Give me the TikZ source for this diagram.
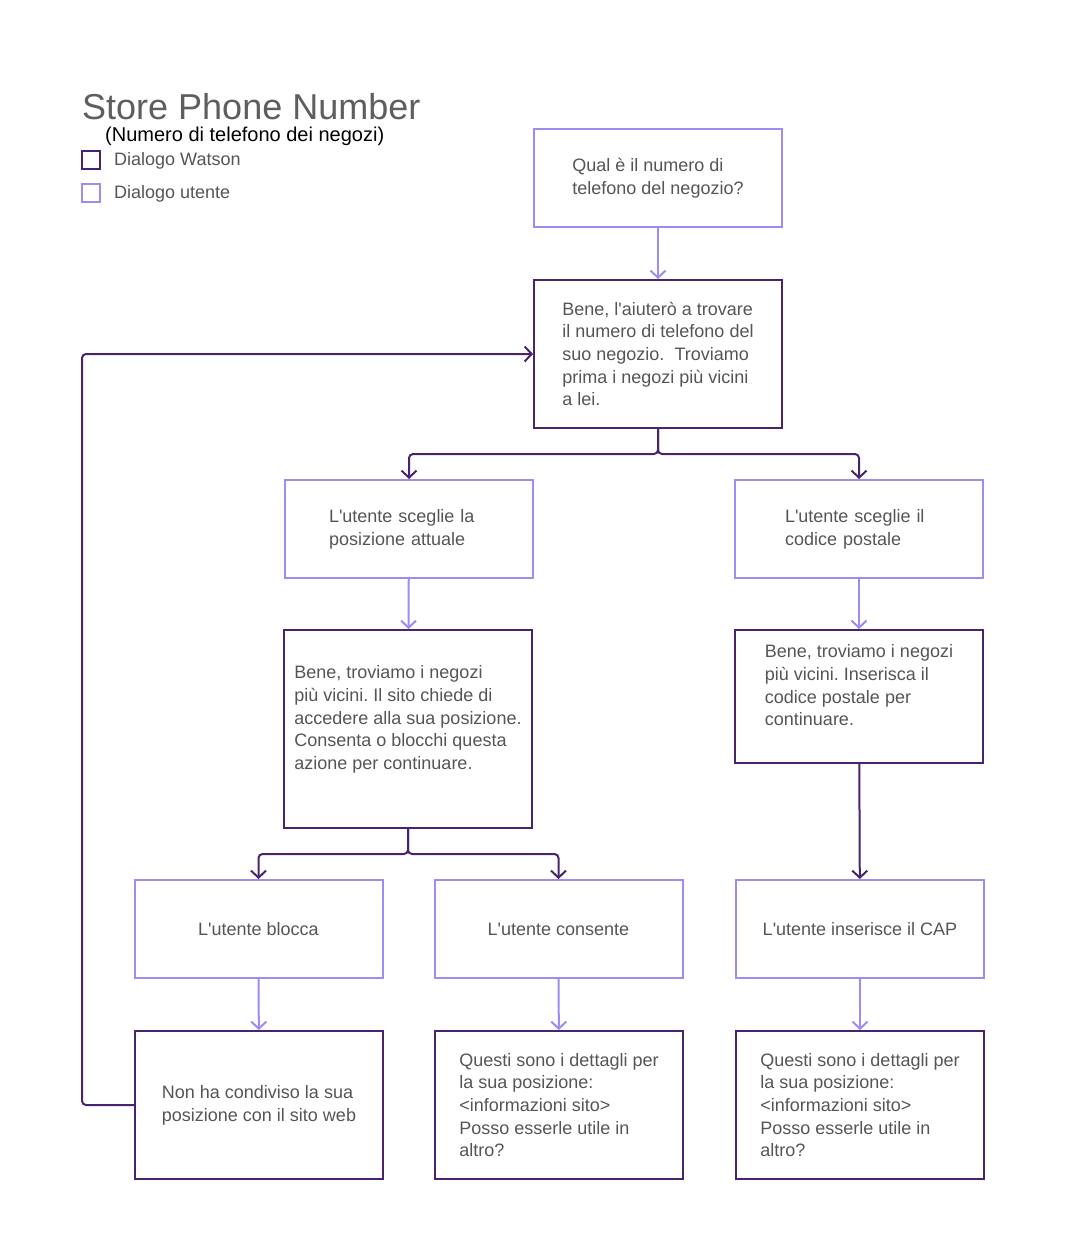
\documentclass[tikz,border=0pt]{standalone}
\usepackage{fontspec}
\setmainfont{Liberation Sans}[Ligatures=TeXOff]
\usetikzlibrary{arrows.meta}
\definecolor{watsonpurple}{HTML}{48246E}
\definecolor{userpurple}{HTML}{A08AF4}
\definecolor{textgray}{HTML}{555555}
\definecolor{titlegray}{HTML}{5E5E5E}
\frenchspacing

\begin{document}
\begin{tikzpicture}[x=1pt,y=-1pt,>={Straight Barb[length=7pt,width=15pt]},
  box/.style={rectangle,minimum width=248pt,line width=2pt,align=left,
    text=textgray,inner sep=0pt,font=\fontsize{18}{22.7}\selectfont},
  watson/.style={box,draw=watsonpurple},
  utente/.style={box,draw=userpurple},
  keybox/.style={rectangle,minimum size=18pt,inner sep=0pt,line width=2pt},
  keytext/.style={anchor=base west,inner sep=0pt,text=textgray,font=\fontsize{18}{22}\selectfont},
  watsonflow/.style={->,line width=2pt,draw=watsonpurple,rounded corners=4pt},
  userflow/.style={->,line width=2pt,draw=userpurple}]
\useasboundingbox (0,0) rectangle (1083,1257);
% title and legend
\node[anchor=base west,inner sep=0pt,text=titlegray,font=\fontsize{36}{40}\selectfont] (title) at (82,120) {Store Phone Number};
\node[anchor=base west,inner sep=0pt,font=\fontsize{20}{24}\selectfont] (subtitle) at (105,142) {(Numero di telefono dei negozi)};
\node[keybox,draw=watsonpurple] (keywatson) at (91,160) {};
\node[keybox,draw=userpurple] (keyutente) at (91,193) {};
\node[keytext] (keywatsontext) at (114,166) {Dialogo Watson};
\node[keytext] (keyutentetext) at (114,199) {Dialogo utente};
% boxes
\node[utente,minimum height=98pt] (ask) at (658,178) {Qual è il numero di\\telefono del negozio?};
\node[watson,minimum height=148pt] (start) at (658,354) {Bene, l'aiuterò a trovare\\il numero di telefono del\\suo negozio.\ \ Troviamo\\prima i negozi più vicini\\a lei.};
\node[utente,minimum height=98pt,text width=160pt] (chooseloc) at (409,529) {L'utente sceglie la\\posizione attuale};
\node[utente,minimum height=98pt,text width=148pt] (choosezip) at (859,529) {L'utente sceglie il\\codice postale};
\node[watson,minimum height=198pt] (askloc) at (408,729) {Bene, troviamo i negozi\\più vicini. Il sito chiede di\\accedere alla sua posizione.\\Consenta o blocchi questa\\azione per continuare.\\~};
\node[watson,minimum height=133pt] (askzip) at (859,696.5) {Bene, troviamo i negozi\\più vicini. Inserisca il\\codice postale per\\continuare.\\~};
\node[utente,minimum height=98pt] (block) at (258.5,929) {L'utente blocca};
\node[utente,minimum height=98pt] (allow) at (558.5,929) {L'utente consente};
\node[utente,minimum height=98pt] (enterzip) at (860,929) {L'utente inserisce il CAP};
\node[watson,minimum height=148pt] (noloc) at (259,1105) {Non ha condiviso la sua\\posizione con il sito web};
\node[watson,minimum height=148pt] (locinfo) at (559,1105) {Questi sono i dettagli per\\la sua posizione:\\<informazioni sito>\\Posso esserle utile in\\altro?};
\node[watson,minimum height=148pt] (zipinfo) at (860,1105) {Questi sono i dettagli per\\la sua posizione:\\<informazioni sito>\\Posso esserle utile in\\altro?};
% connectors
\draw[userflow] (ask) -- (start);
\draw[watsonflow] (start.south) -- ++(0,25) -| (chooseloc.north);
\draw[watsonflow] (start.south) -- ++(0,25) -| (choosezip.north);
\draw[userflow] (chooseloc) -- (askloc);
\draw[userflow] (choosezip) -- (askzip);
\draw[watsonflow] (askloc.south) -- ++(0,25) -| (block.north);
\draw[watsonflow] (askloc.south) -- ++(0,25) -| (allow.north);
\draw[watsonflow] (askzip) -- (enterzip);
\draw[userflow] (block) -- (noloc);
\draw[userflow] (allow) -- (locinfo);
\draw[userflow] (enterzip) -- (zipinfo);
\draw[watsonflow] (noloc.west) -- ++(-52,0) |- (start.west);
\end{tikzpicture}
\end{document}
